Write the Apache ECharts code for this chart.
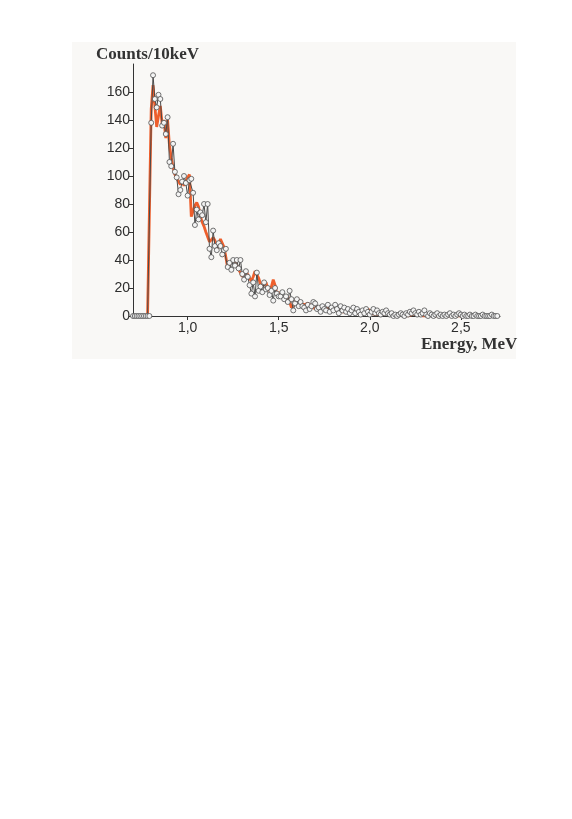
<!DOCTYPE html>
<html>
<head>
<meta charset="utf-8">
<title>Energy spectrum</title>
<script src="https://cdn.jsdelivr.net/npm/echarts@6/dist/echarts.min.js"></script>
<style>
  html, body { margin: 0; padding: 0; background: #ffffff; }
  #chart { width: 572px; height: 819px; }
</style>
</head>
<body>
<div id="chart"></div>
<script>
// 10 keV bins starting at 0.70 MeV
var binStart = 0.70;
var binWidth = 0.01;

// measured counts (grey line with open markers)
var measured = [
  0, 0, 0, 0, 0, 0, 0, 0, 0, 0,
  138, 172, 155, 149, 158, 155, 136, 138, 130, 142,
  110, 107, 123, 103, 99, 87, 90, 96, 100, 95,
  86, 97, 98, 88, 65, 76, 69, 74, 72, 80,
  67, 80, 48, 42, 61, 50, 47, 52, 50, 44,
  47, 48, 35, 38, 33, 40, 36, 40, 34, 40,
  30, 26, 32, 28, 22, 16, 24, 14, 31, 18,
  21, 17, 24, 19, 20, 15, 18, 11, 20, 16,
  14, 14, 17, 12, 14, 10, 18, 12, 4, 9,
  12, 7, 10, 7, 6, 4, 8, 5, 7, 10,
  9, 5, 6, 3, 7, 5, 4, 8, 3, 6,
  4, 8, 5, 2, 7, 4, 6, 3, 5, 2,
  4, 6, 2, 5, 3, 1, 4, 2, 5, 3,
  1, 3, 5, 2, 4, 2, 1, 3, 2, 4,
  2, 1, 2, 0, 1, 0, 1, 2, 1, 0,
  2, 1, 3, 2, 4, 2, 1, 3, 1, 2,
  4, 1, 0, 2, 1, 0, 1, 2, 0, 1,
  0, 1, 0, 1, 2, 0, 1, 0, 1, 2,
  1, 0, 1, 0, 0, 1, 0, 0, 1, 0,
  0, 0, 1, 0, 0, 0, 0, 1, 0, 0,
  0
];

// simulated spectrum (orange line)
var simulated = [
  0, 0, 0, 0, 0, 0, 0, 0, 0, 0,
  148, 165, 150, 135, 143, 150, 137, 140, 127, 140,
  122, 113, 106, 101, 99, 96, 94, 97, 93, 96,
  99, 101, 71, 75, 79, 81, 78, 71, 67, 64,
  60, 59, 53, 54, 56, 54, 47, 51, 55, 54,
  49, 42, 34, 37, 39, 40, 40, 36, 33, 31,
  28, 30, 32, 33, 27, 25, 28, 32, 33, 27,
  23, 21, 22, 24, 20, 18, 21, 26, 22, 15,
  17, 15, 13, 14, 12, 14, 10, 6, 7, 10,
  13, 11, 9, 10, 8, 7, 9, 9, 7, 6,
  5, 7, 6, 4, 6, 5, 5, 4, 6, 3,
  5, 7, 4, 3, 5, 3, 4, 3, 2, 3,
  2, 4, 3, 2, 3, 2, 3, 2, 3, 5,
  6, 2, 2, 1, 2, 1, 2, 1, 1, 2,
  1, 1, 0, 1, 1, 0, 1, 1, 0, 1,
  1, 0, 1, 1, 0, 1, 0, 1, 1, 0,
  1, 0, 0, 1, 0, 0, 1, 0, 0, 1,
  0, 0, 1, 0, 0, 0, 1, 0, 0, 0,
  0, 0, 0, 1, 0, 0, 0, 0, 0, 0,
  0, 0, 0, 0, 0, 0, 0, 0, 0, 0,
  0
];

var xTicks = [1.0, 1.5, 2.0, 2.5];
var yTicks = [0, 20, 40, 60, 80, 100, 120, 140, 160];

function pairs(values) {
  return values.map(function (v, i) {
    return [+(binStart + i * binWidth).toFixed(2), v];
  });
}

var chart = echarts.init(document.getElementById("chart"), null, { renderer: "canvas" });

var labelStyle = {
  color: "#2e2e2e",
  fontFamily: "Liberation Sans, Arial, sans-serif",
  fontSize: 14
};

chart.setOption({
  animation: false,
  backgroundColor: "#ffffff",
  graphic: [
    {
      type: "rect",
      z: -10,
      shape: { x: 72, y: 42, width: 444, height: 317 },
      style: { fill: "#f9f8f6" },
      silent: true
    },
    {
      type: "text",
      left: 96,
      top: 46,
      style: {
        text: "Counts/10keV",
        fill: "#333",
        font: "bold 17px 'Liberation Serif', 'Times New Roman', serif"
      }
    },
    {
      type: "text",
      left: 421,
      top: 336,
      style: {
        text: "Energy, MeV",
        fill: "#333",
        font: "bold 17px 'Liberation Serif', 'Times New Roman', serif"
      }
    }
  ],
  grid: {
    left: 133,
    right: 72,
    top: 64,
    bottom: 503
  },
  xAxis: {
    type: "value",
    min: 0.7,
    max: 2.715,
    axisLine: { show: true, onZero: false, lineStyle: { color: "#333", width: 1 } },
    axisTick: {
      show: true,
      customValues: xTicks,
      length: 4,
      lineStyle: { color: "#333" }
    },
    axisLabel: Object.assign({
      customValues: xTicks,
      margin: 5,
      formatter: function (v) {
        return v.toFixed(1).replace(".", ",");
      }
    }, labelStyle),
    splitLine: { show: false }
  },
  yAxis: {
    type: "value",
    min: 0,
    max: 180,
    axisLine: { show: true, lineStyle: { color: "#333", width: 1 } },
    axisTick: {
      show: true,
      customValues: yTicks,
      length: 4,
      lineStyle: { color: "#333" }
    },
    axisLabel: Object.assign({
      customValues: yTicks,
      margin: 3
    }, labelStyle),
    splitLine: { show: false }
  },
  series: [
    {
      name: "simulation",
      type: "line",
      data: pairs(simulated),
      showSymbol: false,
      symbol: "none",
      z: 2,
      lineStyle: { color: "#ee5f2c", width: 2.8 }
    },
    {
      name: "measured",
      type: "line",
      data: pairs(measured),
      symbol: "circle",
      symbolSize: 5,
      showAllSymbol: true,
      z: 3,
      lineStyle: { color: "#4a4a4a", width: 1 },
      itemStyle: { color: "#f4f4f4", borderColor: "#505050", borderWidth: 0.8 }
    }
  ]
});
</script>
</body>
</html>
